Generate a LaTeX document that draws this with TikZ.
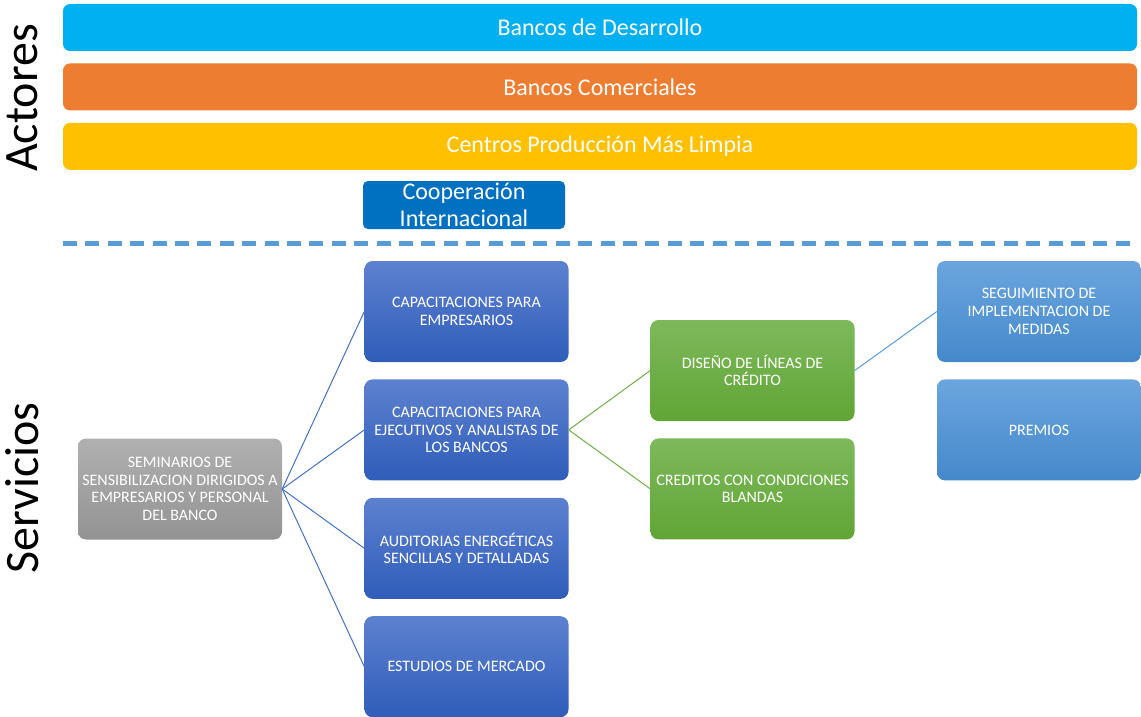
\documentclass[tikz,border=0pt]{standalone}
\usepackage{fontspec}
\setmainfont{Carlito}
\usepackage{tikz}
\usetikzlibrary{positioning}

\definecolor{barcyan}{HTML}{00B0F0}
\definecolor{barorange}{HTML}{ED7D31}
\definecolor{baryellow}{HTML}{FFC000}
\definecolor{coopblue}{HTML}{0070C0}
\definecolor{sepblue}{HTML}{5B9BD5}
\definecolor{darkTop}{HTML}{5D81D0}
\definecolor{darkBot}{HTML}{2F5DB9}
\definecolor{greenTop}{HTML}{7DB95B}
\definecolor{greenBot}{HTML}{61A535}
\definecolor{lightTop}{HTML}{6BA5DE}
\definecolor{lightBot}{HTML}{4589CB}
\definecolor{grayTop}{HTML}{B0B0B0}
\definecolor{grayBot}{HTML}{939393}
\definecolor{lineblue}{HTML}{4472C4}
\definecolor{linegreen}{HTML}{70AD47}

\begin{document}
\begin{tikzpicture}[x=1pt,y=-1pt,
	bar/.style={rounded corners=7pt,minimum width=1074pt,minimum height=47pt,inner sep=0pt,text=white,font=\fontsize{24}{28}\selectfont},
	box/.style={rounded corners=8pt,minimum width=204pt,minimum height=101pt,inner sep=0pt,text=white,align=center,font=\fontsize{16}{17.7}\selectfont},
	dark/.style={box,top color=darkTop,bottom color=darkBot},
	green/.style={box,top color=greenTop,bottom color=greenBot},
	light/.style={box,top color=lightTop,bottom color=lightBot},
	grey/.style={box,top color=grayTop,bottom color=grayBot},
	side/.style={rotate=90,font=\fontsize{48}{52}\selectfont}]
		\useasboundingbox (0,0) rectangle (1141,717);

		% actores
		\node[side] (actores) at (22,98) {Actores};
		\node[bar,fill=barcyan] (bd) at (600,27.5) {Bancos de Desarrollo};
		\node[bar,fill=barorange,below=12pt of bd] (bc) {Bancos Comerciales};
		\node[bar,fill=baryellow,below=12pt of bc] (cp) {Centros Producción Más Limpia};
		\node[rounded corners=5pt,fill=coopblue,minimum width=202pt,minimum height=48pt,inner sep=0pt,text=white,align=center,font=\fontsize{24}{27}\selectfont] (ci) at (464,205) {Cooperación\\Internacional};

		\coordinate (sepL) at (63,243);
		\coordinate (sepR) at (1135,243);
		\draw[sepblue,line width=5pt,dash pattern=on 14pt off 8.4pt] (sepL)--(sepR);

		% servicios
		\node[side] (servicios) at (22,488) {Servicios};
		\node[grey] (sem) at (180,489) {SEMINARIOS DE\\SENSIBILIZACION DIRIGIDOS A\\EMPRESARIOS Y PERSONAL\\DEL BANCO};
		\node[dark] (cap1) at (466.5,311.5) {CAPACITACIONES PARA\\EMPRESARIOS};
		\node[dark,below=17pt of cap1] (cap2) {CAPACITACIONES PARA\\EJECUTIVOS Y ANALISTAS DE\\LOS BANCOS};
		\node[dark,below=17pt of cap2] (aud) {AUDITORIAS ENERGÉTICAS\\SENCILLAS Y DETALLADAS};
		\node[dark,below=17pt of aud] (est) {ESTUDIOS DE MERCADO};
		\node[green] (dis) at (752.5,370.5) {DISEÑO DE LÍNEAS DE\\CRÉDITO};
		\node[green,below=17pt of dis] (cred) {CREDITOS CON CONDICIONES\\BLANDAS};
		\node[light] (seg) at (1039,311.5) {SEGUIMIENTO DE\\IMPLEMENTACION DE\\MEDIDAS};
		\node[light,below=17pt of seg] (pre) {PREMIOS};

		\draw[lineblue,line width=1pt] (sem.east)--(cap1.west);
		\draw[lineblue,line width=1pt] (sem.east)--(cap2.west);
		\draw[lineblue,line width=1pt] (sem.east)--(aud.west);
		\draw[lineblue,line width=1pt] (sem.east)--(est.west);
		\draw[linegreen,line width=1pt] (cap2.east)--(dis.west);
		\draw[linegreen,line width=1pt] (cap2.east)--(cred.west);
		\draw[sepblue,line width=1pt] (dis.east)--(seg.west);
	\end{tikzpicture}
\end{document}
